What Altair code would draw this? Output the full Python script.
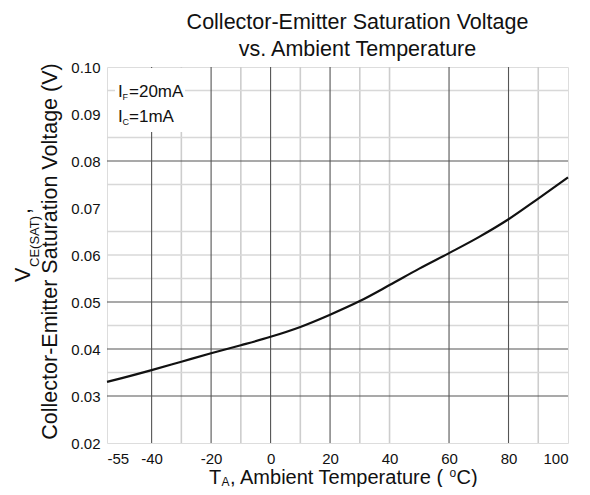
import altair as alt
import pandas as pd

# Curve
temps = [-55, -50, -40, -30, -20, -10, 0, 10, 20, 30, 40, 50, 60, 70, 80, 90, 100]
vce = [0.0330, 0.0338, 0.0355, 0.0373, 0.0391, 0.0408, 0.0426, 0.0447, 0.0473,
       0.0502, 0.0536, 0.0571, 0.0604, 0.0638, 0.0676, 0.0720, 0.0765]

# Axis ticks
x_ticks = [-55, -40, -20, 0, 20, 40, 60, 80, 100]
y_ticks = [0.02, 0.03, 0.04, 0.05, 0.06, 0.07, 0.08, 0.09, 0.10]

# Grid lines as they appear on the scanned sheet
x_grid_major = [-40, -20, 0, 20, 60, 80]
x_grid_minor = [-30, -10, 10, 30, 40, 90]
y_grid_major = [0.03, 0.04, 0.05, 0.08]
y_grid_minor = [0.035, 0.045, 0.055, 0.06, 0.065, 0.075, 0.085, 0.095]

title_lines = ["Collector-Emitter Saturation Voltage", "vs. Ambient Temperature"]
y_title = "Collector-Emitter Saturation Voltage (V)"
y_title_parts = ["V", "CE(SAT)", ","]
x_title_parts = ["T", "A", ", Ambient Temperature (", "o", "C)"]
cond_lines = [("I", "F", "=20mA"), ("I", "C", "=1mA")]

FONT = "Liberation Sans"
W, H = 461, 376

xscale = alt.Scale(domain=[-55, 100], nice=False, zero=False)
yscale = alt.Scale(domain=[0.02, 0.10], nice=False, zero=False)
xaxis = alt.Axis(values=x_ticks, title=None, grid=False, ticks=False, tickSize=0,
                 domain=False, labelFontSize=15, labelColor="#111",
                 labelPadding=8, labelFont=FONT,
                 labelExpr="datum.value < 0 ? '-' + abs(datum.value) : '' + datum.value")
yaxis = alt.Axis(values=y_ticks, format=".2f", title=y_title, grid=False,
                 ticks=False, tickSize=0, domain=False, labelFontSize=15,
                 labelColor="#111", labelPadding=7, labelFont=FONT,
                 titleFontSize=21.5, titleFontWeight="normal", titleColor="#111",
                 titleFont=FONT, titleAngle=270, titleX=-51, titleY=184,
                 titleAlign="center", titleBaseline="alphabetic")
X = alt.X("T:Q", scale=xscale, axis=xaxis)
Y = alt.Y("V:Q", scale=yscale, axis=yaxis)

curve = pd.DataFrame({"T": temps, "V": vce})

vmin = alt.Chart(pd.DataFrame({"T": x_grid_minor})).mark_rule(
    color="#cdcdcd", strokeWidth=1.6).encode(x=X)
vmaj = alt.Chart(pd.DataFrame({"T": x_grid_major})).mark_rule(
    color="#555555", strokeWidth=1.1).encode(x=X)
hmin = alt.Chart(pd.DataFrame({"V": y_grid_minor})).mark_rule(
    color="#d8d8d8", strokeWidth=1.6).encode(y=Y)
hmaj = alt.Chart(pd.DataFrame({"V": y_grid_major})).mark_rule(
    color="#555555", strokeWidth=1.1).encode(y=Y)

box = alt.Chart(pd.DataFrame({"a": [0]})).mark_rect(color="white").encode(
    x=alt.value(8), x2=alt.value(78), y=alt.value(1), y2=alt.value(65))

line = alt.Chart(curve).mark_line(color="#111", strokeWidth=2.2,
                                  interpolate="monotone").encode(x=X, y=Y)


def txt(s, x, y, size, angle=0):
    return alt.Chart(pd.DataFrame({"s": [s]})).mark_text(
        align="left", baseline="alphabetic", fontSize=size, font=FONT,
        color="#111", angle=angle).encode(
        x=alt.value(x), y=alt.value(y), text="s:N")


texts = []
# condition annotation
for i, (a, b, c) in enumerate(cond_lines):
    by = 30 + i * 25
    texts.append(txt(a, 11, by, 17))
    texts.append(txt(b, 15.5, by + 3, 9))
    texts.append(txt(c, 22, by, 17))

# x axis title with sub/superscript
texts.append(txt(x_title_parts[0], 102, 417, 20))
texts.append(txt(x_title_parts[1], 114.5, 419, 12))
texts.append(txt(x_title_parts[2], 123, 417, 20))
texts.append(txt(x_title_parts[3], 342.5, 409.5, 12))
texts.append(txt(x_title_parts[4], 349.5, 417, 20))

# first line of y title: V_CE(SAT),
texts.append(txt(y_title_parts[0], -77, 215, 21.5, 270))
texts.append(txt(y_title_parts[1], -68, 200, 13, 270))
texts.append(txt(y_title_parts[2], -77, 147, 21.5, 270))

chart = alt.layer(vmin, hmin, vmaj, hmaj, box, line, *texts).properties(
    width=W, height=H,
    padding={"left": 99, "top": 59, "right": 14, "bottom": 44},
    autosize=alt.AutoSizeParams(type="none"),
    background="white",
    title=alt.TitleParams(text=title_lines, fontSize=21.5, font=FONT,
                          fontWeight="normal", anchor="middle", frame="group",
                          dx=20, offset=0, lineHeight=27, color="#111"),
).configure_view(stroke="#333", strokeWidth=2).configure(font=FONT)

chart.save("out.html", embed_options={"renderer": "svg", "actions": False})
